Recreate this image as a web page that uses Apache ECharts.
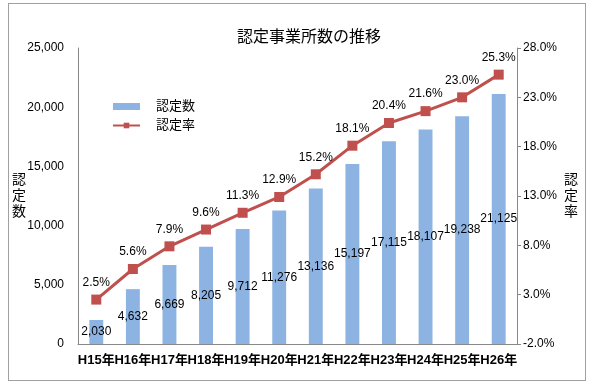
<!DOCTYPE html>
<html><head><meta charset="utf-8">
<script src="https://cdn.jsdelivr.net/npm/echarts@6/dist/echarts.min.js"></script>
<style>html,body{margin:0;padding:0;background:#fff}#c{width:600px;height:386px}
#frame{position:absolute;left:8px;top:3px;width:578px;height:378px;border:1px solid #a0a0a0;box-sizing:border-box;pointer-events:none}</style>
</head><body><div id="c"></div><div id="frame"></div>
<script>
const categories = ['H15年','H16年','H17年','H18年','H19年','H20年','H21年','H22年','H23年','H24年','H25年','H26年'];
const counts = [2030, 4632, 6669, 8205, 9712, 11276, 13136, 15197, 17115, 18107, 19238, 21125];
const rates = [2.5, 5.6, 7.9, 9.6, 11.3, 12.9, 15.2, 18.1, 20.4, 21.6, 23.0, 25.3];
const leftTicks = [0, 25000, 5000];
const rightTicks = [-2, 28, 5];
const FONT = '"Liberation Sans", "Noto Sans CJK JP", sans-serif';
const chart = echarts.init(document.getElementById('c'));
chart.setOption({
  animation: false,
  textStyle: {fontFamily: FONT, color: '#000'},
  title: {text: '認定事業所数の推移', left: 232, top: 25,
    textStyle: {fontFamily: FONT, fontSize: 16, fontWeight: 'normal', color: '#000'}},
  legend: {orient: 'vertical', left: 107, top: 95, itemGap: 6, itemWidth: 27, itemHeight: 7,
    textStyle: {fontFamily: FONT, fontSize: 13, color: '#000', padding: [0, 0, 0, 11]},
    data: [{name: '認定数', icon: 'rect'}, {name: '認定率'}]},
  grid: {left: 78, right: 83, top: 48, bottom: 42},
  xAxis: {type: 'category', data: categories,
    axisLine: {lineStyle: {color: '#888'}}, axisTick: {show: false},
    axisLabel: {interval: 0, fontSize: 13, color: '#000', margin: 10, fontFamily: FONT, fontWeight: 'bold'}},
  yAxis: [
    {type: 'value', min: leftTicks[0], max: leftTicks[1], interval: leftTicks[2],
      splitLine: {show: false}, axisLine: {show: true, lineStyle: {color: '#888'}}, axisTick: {show: false},
      axisLabel: {fontSize: 12, color: '#000', margin: 14, formatter: v => v.toLocaleString('en-US')},
      name: '認\n定\n数', nameLocation: 'middle', nameGap: 59, nameRotate: 0, nameMoveOverlap: false,
      nameTextStyle: {fontSize: 14, color: '#000', lineHeight: 16, fontFamily: FONT, align: 'center', verticalAlign: 'middle', padding: [6, 0, 0, 0]}},
    {type: 'value', min: rightTicks[0], max: rightTicks[1], interval: rightTicks[2], position: 'right',
      splitLine: {show: false}, axisLine: {show: true, lineStyle: {color: '#888'}},
      axisTick: {show: true, length: 4, lineStyle: {color: '#888'}},
      axisLabel: {fontSize: 12, color: '#000', margin: 6, formatter: v => v.toFixed(1) + '%'},
      name: '認\n定\n率', nameLocation: 'middle', nameGap: 54, nameRotate: 0, nameMoveOverlap: false,
      nameTextStyle: {fontSize: 14, color: '#000', lineHeight: 16, fontFamily: FONT, align: 'center', verticalAlign: 'middle', padding: [6, 0, 0, 0]}}
  ],
  series: [
    {name: '認定数', type: 'bar', data: counts, barWidth: '38%', yAxisIndex: 0,
      itemStyle: {color: '#8db3e2'},
      label: {show: true, position: 'inside', color: '#000', fontSize: 12, fontFamily: FONT,
        formatter: p => p.value.toLocaleString('en-US')}},
    {name: '認定率', type: 'line', data: rates, yAxisIndex: 1, symbol: 'rect', symbolSize: 10,
      lineStyle: {color: '#c0504d', width: 3}, itemStyle: {color: '#c0504d'},
      label: {show: true, position: 'top', distance: 6, color: '#000', fontSize: 12, fontFamily: FONT,
        formatter: p => p.value.toFixed(1) + '%'}}
  ]
});
</script></body></html>
